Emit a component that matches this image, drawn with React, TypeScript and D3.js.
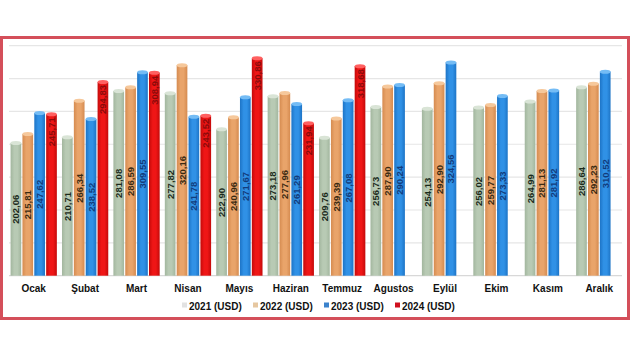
import React from "react";
import * as d3 from "d3";

const months = ["Ocak", "Şubat", "Mart", "Nisan", "Mayıs", "Haziran", "Temmuz", "Agustos", "Eylül", "Ekim", "Kasım", "Aralık"];
const seriesNames = ["2021 (USD)", "2022 (USD)", "2023 (USD)", "2024 (USD)"];
const v2021 = [202.06, 210.71, 281.08, 277.82, 222.9, 273.18, 209.76, 256.73, 254.13, 256.02, 264.99, 286.64];
const v2022 = [215.81, 266.34, 286.59, 320.16, 240.96, 277.96, 239.39, 287.9, 292.9, 259.77, 281.13, 292.23];
const v2023 = [247.62, 238.52, 309.55, 241.78, 271.67, 261.29, 267.08, 290.24, 324.56, 273.33, 281.92, 310.52];
const v2024 = [245.71, 294.83, 308.94, 243.52, 330.86, 231.94, 318.68, null, null, null, null, null];
const yTicks = [0, 50, 100, 150, 200, 250, 300, 350];

const allSeries = [v2021, v2022, v2023, v2024];
const base = ["#b8cab4", "#e9a46a", "#3091e6", "#ef1616"];
const edge = ["#a2b69e", "#d58b50", "#1d74c6", "#c40a0a"];
const cap = ["#d9e4d6", "#f6c89b", "#74bcf5", "#ff6060"];
const labelColor = ["#1b2a1b", "#3b2a12", "#123c7c", "#8a0a0a"];
const legendMarker = ["#e2e2e2", "#e6c7a0", "#3b82cc", "#d0101e"];

const fmt = (v: number) => v.toFixed(2).replace(".", ",");

export default function App() {
  const W = 632, H = 356;
  const x0 = d3.scaleBand<string>().domain(months).range([8, 625]).paddingInner(0.1).paddingOuter(0.05);
  const x1 = d3.scaleBand<number>().domain([0, 1, 2, 3]).range([0, x0.bandwidth()]).paddingInner(0.1);
  const y = d3.scaleLinear().domain([0, 350]).range([275.7, 45.7]);
  const bw = x1.bandwidth();

  const legendX = [182, 253, 324, 395];

  return (
    <div style={{ position: "fixed", left: 0, top: 0 }}>
      <svg width={W} height={H} style={{ display: "block", background: "#fff" }}>
        <defs>
          {base.map((c, i) => (
            <linearGradient key={i} id={`g${i}`} x1="0" x2="1" y1="0" y2="0">
              <stop offset="0" stopColor={edge[i]} />
              <stop offset="0.35" stopColor={c} />
              <stop offset="0.65" stopColor={c} />
              <stop offset="1" stopColor={edge[i]} />
            </linearGradient>
          ))}
        </defs>
        <rect x={1.5} y={37.5} width={627} height={281} fill="#fff" stroke="#d44f5a" strokeWidth={3} />
        {yTicks.map((t) => (
          <line key={t} x1={9} x2={622} y1={y(t)} y2={y(t)} stroke={t === 0 ? "#d8d8d8" : "#e6e6e6"} strokeWidth={1.2} />
        ))}
        {months.map((m, mi) => (
          <g key={m} transform={`translate(${x0(m)},0)`}>
            {allSeries.map((s, si) => {
              const v = s[mi];
              if (v == null) return null;
              const bx = x1(si)!;
              const top = y(v);
              const bot = y(0);
              const cx = bx + bw / 2;
              return (
                <g key={si}>
                  <rect x={bx} y={top} width={bw} height={bot - top} fill={`url(#g${si})`} />
                  <ellipse cx={cx} cy={top} rx={bw / 2} ry={2} fill={cap[si]} />
                  {si === 3 ? (
                    <text
                      transform={`translate(${cx + 3.5},${top + 3}) rotate(-90)`}
                      textAnchor="end"
                      fontFamily="Liberation Sans, Arial, sans-serif"
                      fontWeight="bold"
                      fontSize={9.5}
                      fill={labelColor[si]}
                    >
                      {fmt(v)}
                    </text>
                  ) : (
                    <text
                      transform={`translate(${cx + 3.5},${(top + bot) / 2}) rotate(-90)`}
                      textAnchor="middle"
                      fontFamily="Liberation Sans, Arial, sans-serif"
                      fontWeight="bold"
                      fontSize={9.5}
                      fill={labelColor[si]}
                    >
                      {fmt(v)}
                    </text>
                  )}
                </g>
              );
            })}
            <text
              x={x0.bandwidth() / 2}
              y={291.5}
              textAnchor="middle"
              fontFamily="Liberation Sans, Arial, sans-serif"
              fontWeight="bold"
              fontSize={10}
              fill="#111"
            >
              {m}
            </text>
          </g>
        ))}
        {seriesNames.map((n, i) => (
          <g key={n} transform={`translate(${legendX[i]},0)`}>
            <rect x={0} y={302.5} width={5} height={5} fill={legendMarker[i]} />
            <text x={7} y={309.5} fontFamily="Liberation Sans, Arial, sans-serif" fontWeight="bold" fontSize={10} fill="#111">
              {n}
            </text>
          </g>
        ))}
      </svg>
    </div>
  );
}
